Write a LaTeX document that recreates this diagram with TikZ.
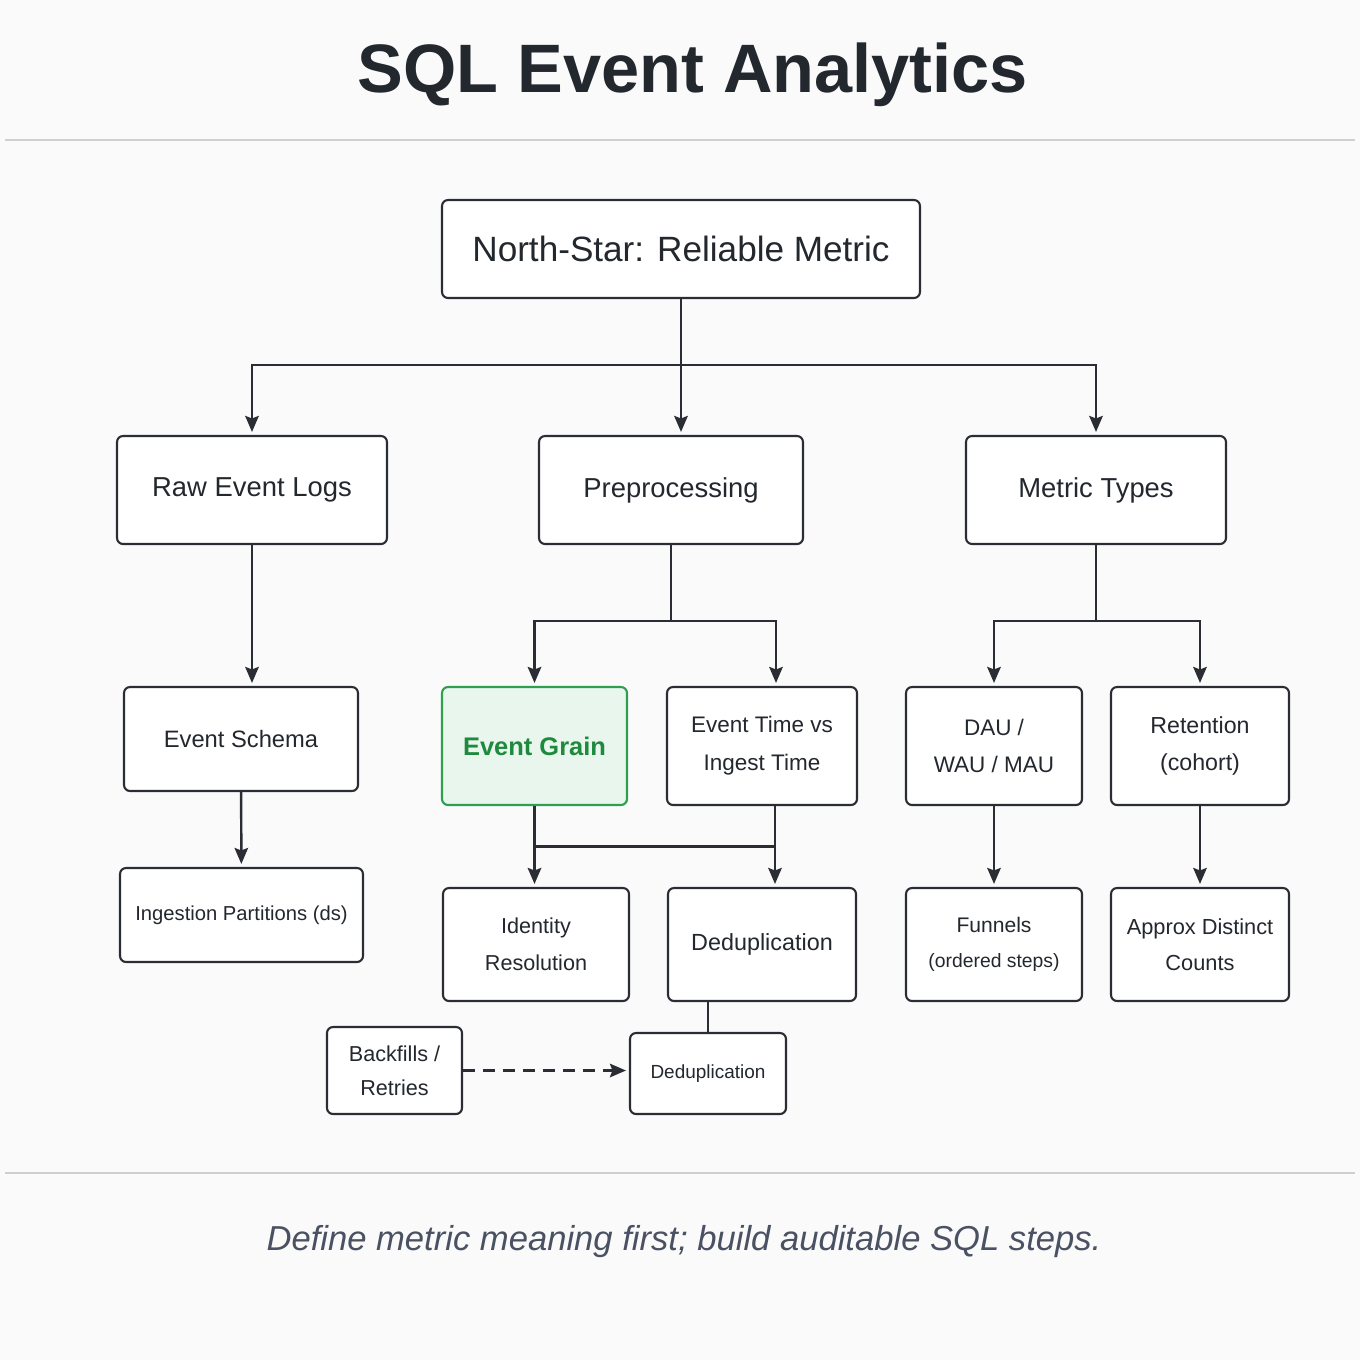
\documentclass[tikz,border=0pt]{standalone}
\usepackage{fontspec}
\setmainfont{Liberation Sans}
\usepackage{tikz}
\usetikzlibrary{arrows.meta,positioning,calc}

\definecolor{ink}{HTML}{23272E}
\definecolor{edge}{HTML}{2A2D33}
\definecolor{rule}{HTML}{CFCFD2}
\definecolor{grainline}{HTML}{2E9E4F}
\definecolor{grainfill}{HTML}{E9F6ED}
\definecolor{graintext}{HTML}{1F8A3E}
\definecolor{capt}{HTML}{4A5162}
\definecolor{paper}{HTML}{FAFAFA}
\newcommand{\fs}[2]{\fontsize{#1}{#2}\selectfont}

\begin{document}
\begin{tikzpicture}[
    x=0.02cm, y=-0.02cm,
    box/.style={
        draw=edge,
        fill=white,
        line width=1.2pt,
        rounded corners=0.12cm,
        inner sep=0pt,
        align=center,
        text=ink,
        font=\fs{13}{21}
    },
    hub/.style={box, draw=grainline, fill=grainfill, text=graintext, font=\fs{14.5}{18}\bfseries},
    link/.style={line width=1.4pt, draw=edge},
    arrow/.style={link, -{Stealth[length=0.32cm,width=0.27cm,inset=0.05cm]}, shorten >=0.06cm}
]
\fill[paper] (0,0) rectangle (1360,1360);
\useasboundingbox (0,0) rectangle (1360,1360);

% title and rules
\node[font=\fs{39}{47}\bfseries, text=ink] (title) at (693,75) {SQL Event Analytics};
\draw[rule, line width=1.2pt] (5,140) -- (1355,140);
\draw[rule, line width=1.2pt] (5,1173) -- (1355,1173);
\node[font=\fs{19.7}{24}\itshape, text=capt] (caption) at (684,1242) {Define metric meaning first; build auditable SQL steps.};

% top
\node[box, minimum width=9.56cm, minimum height=1.96cm, font=\fs{20}{24}] (north) at (681,249) {North-Star: Reliable Metric};

% first level
\node[box, minimum width=5.4cm, minimum height=2.16cm, font=\fs{15.6}{19}] (raw) at (252,490) {Raw Event Logs};
\node[box, minimum width=5.28cm, minimum height=2.16cm, font=\fs{15.6}{19}] (pre) at (671,490) {Preprocessing};
\node[box, minimum width=5.2cm, minimum height=2.16cm, font=\fs{15.6}{19}] (metric) at (1096,490) {Metric Types};

% second level
\node[box, minimum width=4.68cm, minimum height=2.08cm, font=\fs{13.5}{18}] (schema) at (241,739) {Event Schema};
\node[hub, minimum width=3.7cm, minimum height=2.36cm] (grain) at (534.5,746) {Event Grain};
\node[box, minimum width=3.8cm, minimum height=2.36cm, font=\fs{12.8}{21.5}] (evtime) at (762,746) {Event Time vs\\Ingest Time};
\node[box, minimum width=3.52cm, minimum height=2.36cm, font=\fs{12.8}{21.5}] (dau) at (994,746) {DAU /\\WAU / MAU};
\node[box, minimum width=3.56cm, minimum height=2.36cm, font=\fs{13.2}{21.5}] (retention) at (1200,746) {Retention\\(cohort)};

% third level
\node[box, minimum width=4.86cm, minimum height=1.88cm, font=\fs{11.5}{14}] (ingest) at (241.5,915) {Ingestion Partitions (ds)};
\node[box, minimum width=3.72cm, minimum height=2.26cm, font=\fs{12.3}{21}] (identity) at (536,944.5) {Identity\\Resolution};
\node[box, minimum width=3.76cm, minimum height=2.26cm, font=\fs{13.3}{18}] (dedup) at (762,944.5) {Deduplication};
\node[box, minimum width=3.52cm, minimum height=2.26cm, font=\fs{12}{20}] (funnels) at (994,944.5) {Funnels\\{\fs{11}{14}(ordered steps)}};
\node[box, minimum width=3.56cm, minimum height=2.26cm, font=\fs{12.4}{20.5}] (approx) at (1200,944.5) {Approx Distinct\\Counts};

% bottom
\node[box, minimum width=2.7cm, minimum height=1.74cm, font=\fs{12.3}{19.5}] (backfills) at (394.5,1070.5) {Backfills /\\Retries};
\node[box, minimum width=3.12cm, minimum height=1.62cm, font=\fs{10.8}{14}] (dedup2) at (708,1073.5) {Deduplication};

% connectors
\draw[link] (north.south) -- ++(0,66) coordinate (split);
\draw[arrow] (split) -| (raw.north);
\draw[arrow] (split) -- (split |- pre.north);
\draw[arrow] (split) -| (metric.north);

\draw[link] (pre.south) -- ++(0,76) coordinate (prejoin);
\draw[arrow] (prejoin) -| (grain.north);
\draw[arrow] (prejoin) -| ([xshift=0.28cm]evtime.north);

\draw[link] (metric.south) -- ++(0,76) coordinate (metricjoin);
\draw[arrow] (metricjoin) -| (dau.north);
\draw[arrow] (metricjoin) -| (retention.north);

\draw[arrow] (raw.south) -- (raw.south |- schema.north);
\draw[arrow] (schema) -- (ingest);

\draw[arrow] (grain.south) -- (grain.south |- identity.north);
\draw[arrow] ([xshift=0.26cm]evtime.south) -- ([xshift=0.26cm]dedup.north);
\draw[link] ($(grain.south)!.5!(grain.south |- identity.north)$) -- ($([xshift=0.26cm]evtime.south)!.5!([xshift=0.26cm]dedup.north)$);

\draw[arrow] (dau) -- (funnels);
\draw[arrow] (retention) -- (approx);

\draw[link] (dedup2.north) -- (dedup2.north |- dedup.south);
\draw[arrow, dash pattern=on 0.24cm off 0.16cm] (backfills) -- (backfills -| dedup2.west);
\end{tikzpicture}
\end{document}
